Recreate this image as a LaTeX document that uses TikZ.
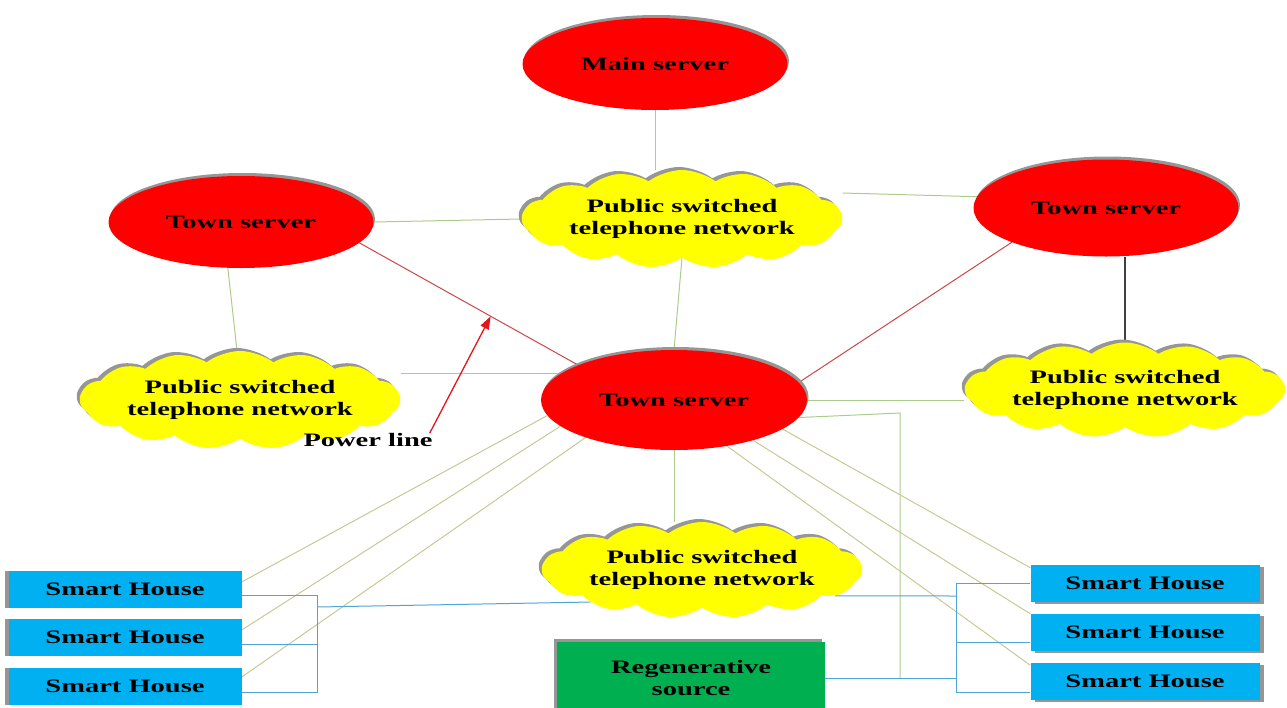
\documentclass[tikz,border=0pt]{standalone}
\usepackage{fontspec}
\setmainfont{Liberation Serif}[FakeStretch=1.5]
\usetikzlibrary{shapes.geometric,shapes.symbols,shadows,arrows.meta,backgrounds}
\definecolor{srvred}{RGB}{255,0,0}
\definecolor{cloudyellow}{RGB}{255,255,0}
\definecolor{houseblue}{RGB}{0,176,240}
\definecolor{regengreen}{RGB}{0,176,80}
\definecolor{shadowgray}{RGB}{150,150,150}
\definecolor{linkgreen}{RGB}{170,205,140}
\definecolor{linkkhaki}{RGB}{200,200,150}
\definecolor{linkblue}{RGB}{80,165,215}
\definecolor{linkred}{RGB}{205,70,70}
\definecolor{arrowred}{RGB}{230,20,30}
\begin{document}
\begin{tikzpicture}[x=1pt,y=-1pt,
  every node/.style={font=\fontsize{19}{22}\selectfont\bfseries, align=center, inner sep=0pt, text=black},
  server/.style={ellipse, fill=srvred, general shadow={fill=shadowgray, shadow xshift=1.5pt, shadow yshift=3pt}},
  pstn/.style={cloud, cloud puffs=15, cloud puff arc=75, cloud ignores aspect, fill=cloudyellow,
    minimum width=320pt, minimum height=98pt,
    general shadow={fill=shadowgray, shadow xshift=-3pt, shadow yshift=3pt}},
  houseL/.style={rectangle, fill=houseblue, minimum width=233pt, minimum height=37pt,
    general shadow={fill=shadowgray, shadow xshift=-4pt, shadow yshift=0pt}},
  houseR/.style={rectangle, fill=houseblue, minimum width=229pt, minimum height=37pt,
    general shadow={fill=shadowgray, shadow xshift=4pt, shadow yshift=-2pt}},
  regenbox/.style={rectangle, fill=regengreen, minimum width=268pt, minimum height=72pt,
    general shadow={fill=shadowgray, shadow xshift=-3pt, shadow yshift=3pt}},
  gline/.style={draw=linkgreen, line width=1pt},
  kline/.style={draw=linkkhaki, line width=1pt},
  bline/.style={draw=linkblue, line width=1pt},
  rline/.style={draw=linkred, line width=1pt},
  dline/.style={draw=black!75, line width=1.1pt},
]
\useasboundingbox (0,0) rectangle (1287,707);

% servers
\node[server, minimum width=265pt, minimum height=92pt] (main) at (655,64) {Main server};
\node[server, minimum width=265pt, minimum height=92pt] (lt) at (241,222) {Town server};
\node[server, minimum width=265pt, minimum height=97pt] (rt) at (1106,208) {Town server};
\node[server, minimum width=266pt, minimum height=100pt] (tc) at (674,400) {Town server};

% clouds
\node[pstn] (ctop) at (682,219) {Public switched\\telephone network};
\node[pstn] (lcl) at (240,400) {Public switched\\telephone network};
\node[pstn, minimum height=95pt] (rcl) at (1125,390) {Public switched\\telephone network};
\node[pstn, minimum height=96pt] (ccb) at (702,570) {Public switched\\telephone network};

% houses
\node[houseL] (lh1) at (125,589) {Smart House};
\node[houseL] (lh2) at (125,637) {Smart House};
\node[houseL] (lh3) at (125,686) {Smart House};
\node[houseR] (rh1) at (1145,583.5) {Smart House};
\node[houseR] (rh2) at (1145,632.5) {Smart House};
\node[houseR] (rh3) at (1145,681) {Smart House};

% regenerative source
\node[regenbox] (regen) at (691,678) {Regenerative\\source};

% power line label
\node (plabel) at (368,440) {Power line};

\coordinate (lbus) at (317,0);
\coordinate (rbus) at (956,0);
\coordinate (gcorner) at (900,413);
\path (lt.-10) -- (tc.160) coordinate[pos=0.6] (pltip);

\begin{pgfonlayer}{background}
% green links
\draw[gline] (main.south) -- (main.south |- ctop.north);
\draw[gline] (lt.east) -- (ctop.west);
\draw[gline] ([yshift=26pt]ctop.east) -- (rt.175);
\draw[gline] (lt.254) -- ([xshift=-3pt]lcl.north);
\draw[gline] (ctop.south) -- (tc.north);
\draw[gline] (lcl.east |- tc.167) -- (tc.167);
\draw[gline] (tc.east) -- (tc.east -| rcl.west);
\draw[gline] (tc.south) -- (tc.south |- ccb.north);
\draw[gline] (tc.-8) -- (gcorner) -- (gcorner |- regen.east);
\draw[dline] (rcl.north |- rt.south) -- (rcl.north);

% red links
\draw[rline] (lt.-10) -- (tc.160);
\draw[rline] (tc.8) -- (rt.200);

% khaki links to houses
\draw[kline] (tc.187) -- ([yshift=7pt]lh1.east);
\draw[kline] (tc.193) -- ([yshift=7pt]lh2.east);
\draw[kline] (tc.203) -- ([yshift=9pt]lh3.east);
\draw[kline] (tc.-15) -- ([yshift=-3pt]rh1.north west);
\draw[kline] (tc.-27) -- (rh2.north west);
\draw[kline] (tc.-41) -- ([yshift=-3pt]rh3.north west);

% blue links left
\draw[bline] ([yshift=-6pt]lh1.east) -- ([yshift=-6pt]lh1.east -| lbus)
  -- ([yshift=-6pt]lh3.east -| lbus) -- ([yshift=-6pt]lh3.east);
\draw[bline] ([yshift=-7pt]lh2.east) -- ([yshift=-7pt]lh2.east -| lbus);
\draw[bline] (lbus |- 0,607) -- (ccb.196);

% blue links right
\draw[bline] (rh1.west) -- (rh1.west -| rbus)
  -- ([yshift=-11pt]rh3.west -| rbus) -- ([yshift=-11pt]rh3.west);
\draw[bline] ([yshift=-9.5pt]rh2.west) -- ([yshift=-9.5pt]rh2.west -| rbus);
\draw[bline] (ccb.-11) -- (rbus |- 0,596);
\draw[bline] (regen.east) -- (regen.east -| rbus);
\end{pgfonlayer}

% power line arrow
\draw[draw=arrowred, line width=1.3pt, -{Triangle[length=13pt,width=9pt]}] ([xshift=-3pt]plabel.north east) -- (pltip);
\end{tikzpicture}
\end{document}
